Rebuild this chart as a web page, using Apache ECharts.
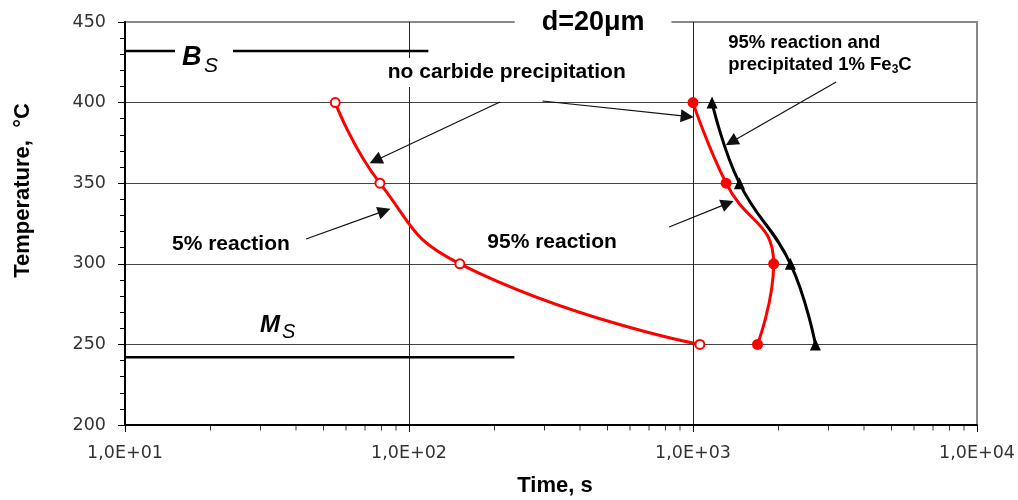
<!DOCTYPE html>
<html><head><meta charset="utf-8">
<script src="https://cdn.jsdelivr.net/npm/echarts@6/dist/echarts.min.js"></script>
<style>html,body{margin:0;padding:0;background:#fff}#c{width:1018px;height:500px}</style>
</head><body><div id="c"></div>
<script>
// ---- data ----
const temps = [400, 350, 300, 250];
const time5pct = [55, 79, 151, 1057];          // 5% reaction
const time95pct = [1000, 1308, 1923, 1687];    // 95% reaction
const time95Fe3C = [1167, 1457, 2203, 2698];   // 95% reaction and precipitated 1% Fe3C
const yTicks = [200, 250, 300, 350, 400, 450];
const xTickLabels = ['1,0E+01', '1,0E+02', '1,0E+03', '1,0E+04'];
const xMinorTickTimes = [20,30,40,50,60,70,80,90,200,300,400,500,600,700,800,900,2000,3000,4000,5000,6000,7000,8000,9000];
const bsTemp = 432;
const bsSegments = [[10, 15], [24, 117]];
const msTemp = 242;
const msSegments = [[10, 235]];
// annotation arrows (from label to curve), data coords [time, temperature]
const arrowFrom = [[209, 400.4], [295, 401], [3192, 412.8], [43.4, 315.4], [824, 322.8]];
const arrowTo   = [[76.2, 364.1], [954, 391.4], [1365, 375.6], [81.9, 332.8], [1324, 337.5]];

const FONT = '"Liberation Sans", Arial, sans-serif';
const TICKFONT = '"DejaVu Sans", sans-serif';

const chart = echarts.init(document.getElementById('c'));

const pairs = (xs) => temps.map((t, i) => [xs[i], t]);

const option = {
  animation: false,
  grid: { left: 125, right: 41, top: 22, bottom: 75, show: true, borderColor: '#888', borderWidth: 2 },
  xAxis: {
    type: 'log', logBase: 10, min: 10, max: 10000, splitNumber: 3,
    axisLine: { show: true, lineStyle: { color: '#000', width: 2 } },
    axisTick: { show: true, length: 7, lineStyle: { color: '#000', width: 1 } },
    axisLabel: {
      margin: 19, color: '#333', fontFamily: TICKFONT, fontSize: 17.5,
      formatter: (v) => xTickLabels[Math.round(Math.log10(v)) - 1]
    },
    splitLine: { show: true, lineStyle: { color: ['#000', '#222', '#222', '#888'], width: 1 } }
  },
  yAxis: {
    type: 'value', min: yTicks[0], max: yTicks[yTicks.length - 1], interval: yTicks[1] - yTicks[0],
    axisLine: { show: true, lineStyle: { color: '#000', width: 2 } },
    axisTick: { show: true, length: 7, lineStyle: { color: '#000', width: 1 } },
    minorTick: { show: true, splitNumber: 5, length: 5, lineStyle: { color: '#000', width: 1 } },
    axisLabel: { margin: 19, color: '#333', fontFamily: TICKFONT, fontSize: 17.5 },
    splitLine: { show: true, lineStyle: { color: ['#000', '#444', '#444', '#444', '#444', '#888'], width: 1 } }
  },
  series: [
    ...bsSegments.map(s => ({
      type: 'line', data: [[s[0], bsTemp], [s[1], bsTemp]], symbol: 'none', silent: true,
      lineStyle: { color: '#000', width: 2.5 }, z: 3
    })),
    ...msSegments.map(s => ({
      type: 'line', data: [[s[0], msTemp], [s[1], msTemp]], symbol: 'none', silent: true,
      lineStyle: { color: '#000', width: 2.5 }, z: 3
    })),
    {
      name: '95% reaction and precipitated 1% Fe3C', type: 'line', data: pairs(time95Fe3C), smooth: 0.45,
      symbol: 'triangle', symbolSize: [11, 12], lineStyle: { color: '#000', width: 3 },
      itemStyle: { color: '#000' }, z: 4
    },
    {
      name: '95% reaction', type: 'line', data: pairs(time95pct), smooth: 0.5,
      symbol: 'circle', symbolSize: 11, lineStyle: { color: '#ff0000', width: 3 },
      itemStyle: { color: '#ff0000' }, z: 5
    },
    {
      name: '5% reaction', type: 'line', data: pairs(time5pct), smooth: 0.5,
      symbol: 'circle', symbolSize: 9, lineStyle: { color: '#ff0000', width: 3 },
      itemStyle: { color: '#fff', borderColor: '#ff0000', borderWidth: 2 }, z: 5
    },
    {
      type: 'scatter', data: xMinorTickTimes.map(t => [t, yTicks[0]]), symbol: 'rect',
      symbolSize: [1, 5], symbolOffset: [0, 3], itemStyle: { color: '#000' }, clip: false, silent: true, z: 1
    },
    {
      type: 'line', data: [], silent: true,
      markLine: {
        silent: true, symbol: ['none', 'triangle'], symbolSize: 13, animation: false,
        label: { show: false }, emphasis: { disabled: true },
        lineStyle: { color: '#111', width: 1.2, type: 'solid' },
        data: arrowFrom.map((f, i) => [{ coord: f }, { coord: arrowTo[i] }])
      }
    }
  ]
};
chart.setOption(option);

const P = (p) => chart.convertToPixel({ gridIndex: 0 }, p);
function txt(at, text, font, extra) {
  const px = P(at);
  return Object.assign({ type: 'text', x: px[0], y: px[1], z: 100, silent: true,
    style: Object.assign({ text: text, font: font, fill: '#000', align: 'center', verticalAlign: 'middle' }, extra || {}) });
}
const graphics = [
  txt([444.7, 449.6], 'd=20μm', 'bold 27px ' + FONT, { backgroundColor: '#fff', padding: [2, 27, 2, 27] }),
  txt([220.9, 418.7], 'no carbide precipitation', 'bold 21px ' + FONT, { backgroundColor: '#fff', padding: [8, 2, 0, 2] }),
  txt([23.6, 312.0], '5% reaction', 'bold 21px ' + FONT),
  txt([319, 313.3], '95% reaction', 'bold 21px ' + FONT),
  txt([1330, 430.1], '95% reaction and\nprecipitated 1% Fe{s|3}C', 'bold 18.5px ' + FONT, {
    align: 'left', lineHeight: 22,
    rich: { s: { font: 'bold 12px ' + FONT, verticalAlign: 'bottom', lineHeight: 14 } }
  }),
  txt([15.88, 427.9], 'B', 'italic bold 27px ' + FONT, { align: 'left' }),
  txt([18.98, 422.9], 'S', 'italic 21px ' + FONT, { align: 'left' }),
  txt([29.9, 261.6], 'M', 'italic bold 24px ' + FONT, { align: 'left' }),
  txt([35.7, 257.3], 'S', 'italic 20px ' + FONT, { align: 'left' }),
  { type: 'text', x: 22.7, y: 190.5, rotation: Math.PI / 2, z: 100, silent: true,
    style: { text: 'Temperature,  °C', font: 'bold 22px ' + FONT, fill: '#000', align: 'center', verticalAlign: 'middle' } },
  { type: 'text', x: 555, y: 486, z: 100, silent: true,
    style: { text: 'Time, s', font: 'bold 22px ' + FONT, fill: '#000', align: 'center', verticalAlign: 'middle' } }
];
chart.setOption({ graphic: graphics });
</script>
</body></html>
